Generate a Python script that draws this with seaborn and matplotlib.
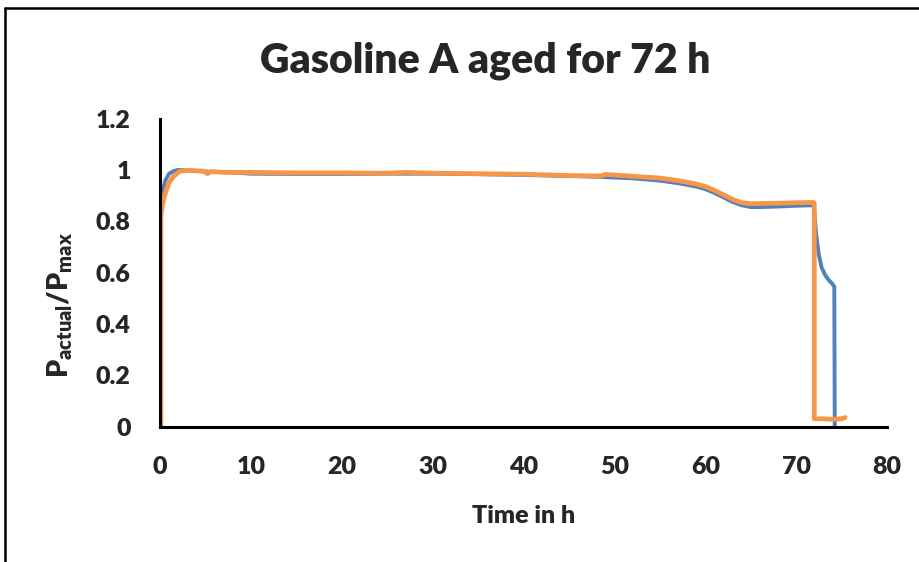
import matplotlib
matplotlib.use("Agg")
import matplotlib.pyplot as plt
import seaborn as sns
import pandas as pd
from matplotlib.lines import Line2D

# ---- data ----
time_blue = [0, 0, 0.1, 0.3, 0.6, 1.0, 1.5, 2.0, 3, 5, 8, 10, 15, 20, 25, 30, 35, 40, 45, 48,
             50, 52, 55, 57, 59, 60, 61, 62, 63, 64, 65, 66, 68, 70, 71.9, 72.0, 72.2, 72.5,
             72.8, 73.2, 73.6, 74.0, 74.2, 74.25]
p_blue = [0, 0.84, 0.88, 0.92, 0.96, 0.985, 0.995, 1.0, 0.998, 0.993, 0.99, 0.985, 0.984, 0.984,
          0.985, 0.985, 0.983, 0.98, 0.976, 0.973, 0.97, 0.967, 0.958, 0.948, 0.935, 0.925, 0.91,
          0.893, 0.875, 0.862, 0.855, 0.855, 0.857, 0.86, 0.862, 0.84, 0.75, 0.67, 0.62, 0.59,
          0.57, 0.555, 0.545, 0]

time_orange = [0.1, 0.1, 0.3, 0.6, 1.0, 1.5, 2.2, 3, 4.8, 5.2, 5.6, 7, 10, 15, 20, 25, 27, 30,
               35, 40, 45, 48.5, 49, 50, 52, 55, 57, 59, 60, 61, 62, 63, 64, 65, 68, 70, 71.9,
               72.0, 72.0, 73, 74, 75, 75.4]
p_orange = [0, 0.82, 0.87, 0.91, 0.95, 0.975, 0.995, 0.998, 0.995, 0.985, 0.993, 0.99, 0.99,
            0.988, 0.988, 0.987, 0.99, 0.987, 0.985, 0.983, 0.978, 0.976, 0.982, 0.98, 0.975,
            0.968, 0.958, 0.945, 0.935, 0.92, 0.903, 0.885, 0.872, 0.868, 0.87, 0.872, 0.873,
            0.87, 0.03, 0.03, 0.028, 0.03, 0.035]

x_ticks = [0, 10, 20, 30, 40, 50, 60, 70, 80]
y_ticks = [0, 0.2, 0.4, 0.6, 0.8, 1.0, 1.2]
y_tick_labels = ["0", "0.2", "0.4", "0.6", "0.8", "1", "1.2"]

title = "Gasoline A aged for 72 h"
xlabel = "Time in h"

df_blue = pd.DataFrame({"t": time_blue, "p": p_blue})
df_orange = pd.DataFrame({"t": time_orange, "p": p_orange})

sns.set_theme(style="white")
plt.rcParams["font.family"] = ["Lato", "DejaVu Sans"]
plt.rcParams["mathtext.fontset"] = "custom"
plt.rcParams["mathtext.bf"] = "Lato:heavy"
plt.rcParams["mathtext.rm"] = "Lato"

fig = plt.figure(figsize=(9.19, 5.62), dpi=100)
ax = fig.add_axes([160 / 919, 1 - 426.5 / 562, 727 / 919, 308 / 562])

sns.lineplot(data=df_blue, x="t", y="p", ax=ax, color="#4F81BD", linewidth=2.8,
             estimator=None, sort=False)
sns.lineplot(data=df_orange, x="t", y="p", ax=ax, color="#F79646", linewidth=3.4,
             estimator=None, sort=False)

ax.set_xlim(0, 80)
ax.set_ylim(0, 1.2)
ax.set_xticks(x_ticks)
ax.set_yticks(y_ticks)
ax.set_yticklabels(y_tick_labels)
ax.tick_params(direction="in", length=7, width=2.2, labelsize=18, color="black")
ax.tick_params(axis="x", pad=21)
ax.tick_params(axis="y", pad=21)
for lab in ax.get_xticklabels() + ax.get_yticklabels():
    lab.set_fontweight("heavy")

for s in ["top", "right"]:
    ax.spines[s].set_visible(False)
for s in ["left", "bottom"]:
    ax.spines[s].set_linewidth(2.2)
    ax.spines[s].set_color("black")

ax.set_xlabel(xlabel, fontsize=18, fontweight="heavy")
ax.xaxis.set_label_coords(0.5, (426.5 - 516) / 308)
ax.xaxis.label.set_va("center")
ax.set_ylabel(r"$\mathbf{P_{actual}/P_{max}}$", fontsize=20.5)
ax.yaxis.set_label_coords((60 - 160) / 727, (426.5 - 305) / 308)
ax.yaxis.label.set_va("center")
ax.yaxis.label.set_ha("center")
fig.text(0.528, 1 - 61 / 562, title, fontsize=29.5, fontweight="heavy", ha="center", va="center")

# chart-area border
fig.add_artist(Line2D([5 / 919, 5 / 919], [-0.1, 1 - 8 / 562], color="black", lw=1.8,
                      transform=fig.transFigure))
fig.add_artist(Line2D([5 / 919, 1.1], [1 - 8 / 562, 1 - 8 / 562], color="black", lw=1.8,
                      transform=fig.transFigure))

fig.savefig("out.png", dpi=100)
